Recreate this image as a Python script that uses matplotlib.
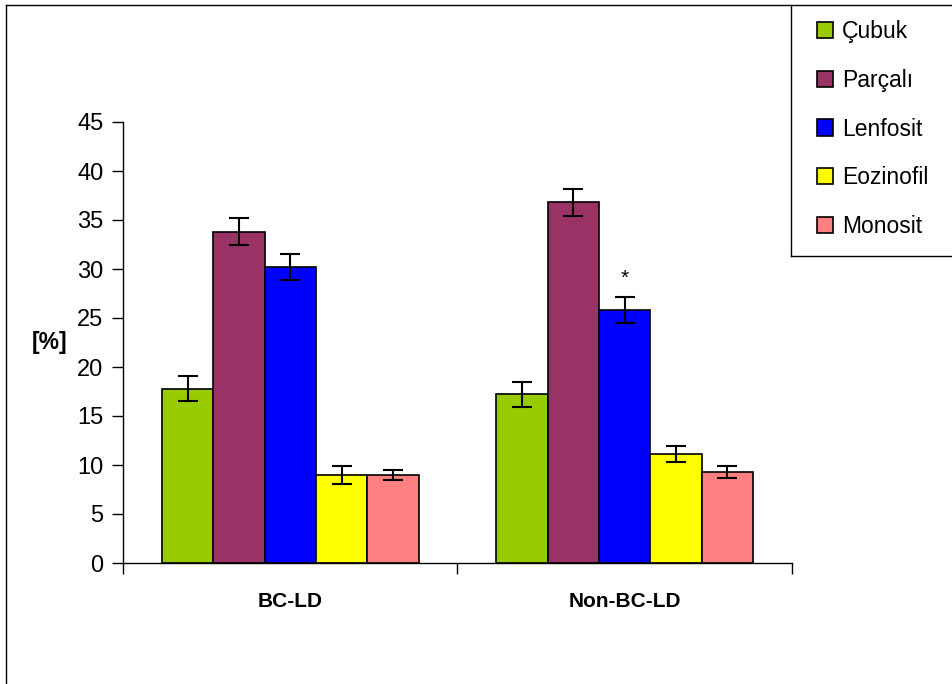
#!/usr/bin/env python3
"""Leukocyte differential in BC-LD vs Non-BC-LD groups, grouped bar chart."""

import numpy as np
import matplotlib
matplotlib.use("Agg")
import matplotlib.pyplot as plt
from matplotlib.lines import Line2D
from matplotlib.patches import Patch

plt.rcParams['font.family'] = ['Liberation Sans', 'DejaVu Sans']

# Data
groups = ['BC-LD', 'Non-BC-LD']
cell_types = ['Çubuk', 'Parçalı', 'Lenfosit', 'Eozinofil', 'Monosit']
colors = ['#99CC00', '#993366', '#0000FF', '#FFFF00', '#FF8080']

cubuk = [17.8, 17.2]
parcali = [33.8, 36.8]
lenfosit = [30.2, 25.8]
eozinofil = [9.0, 11.1]
monosit = [9.0, 9.3]

cubuk_err = [1.3, 1.25]
parcali_err = [1.4, 1.4]
lenfosit_err = [1.3, 1.3]
eozinofil_err = [0.9, 0.8]
monosit_err = [0.5, 0.6]

values = [cubuk, parcali, lenfosit, eozinofil, monosit]
errors = [cubuk_err, parcali_err, lenfosit_err, eozinofil_err, monosit_err]

W, H = 953, 684
fig = plt.figure(figsize=(W / 100, H / 100), dpi=100)
ax = fig.add_axes([123 / W, (H - 563) / H, (792 - 123) / W, (563 - 122) / H])

x = np.arange(len(groups))
bar_w = 0.767 / len(cell_types)
for i, (vals, errs, c) in enumerate(zip(values, errors, colors)):
    pos = x - 0.767 / 2 + bar_w * (i + 0.5)
    ax.bar(pos, vals, width=bar_w, color=c, edgecolor='black', linewidth=1.2,
           label=cell_types[i], zorder=2)
    ax.errorbar(pos, vals, yerr=errs, fmt='none', ecolor='black',
                elinewidth=1.5, capsize=7.5, capthick=1.5, zorder=3)

# significance mark over Non-BC-LD Lenfosit
star_x = x[1] - 0.767 / 2 + bar_w * 2.5
ax.text(star_x, 29.0, '*', ha='center', va='center', fontsize=15)

ax.set_xlim(-0.5, 1.5)
ax.set_ylim(0, 45)
ax.set_yticks(range(0, 46, 5))
ax.tick_params(axis='y', direction='out', length=8, width=1, labelsize=17, pad=6)
ax.set_xticks([-0.5, 0.5, 1.5])
ax.set_xticklabels([])
ax.tick_params(axis='x', direction='out', length=8, width=1)
for g, xi in zip(groups, x):
    ax.text(xi, -3.9, g, ha='center', va='center', fontsize=15, fontweight='bold')

for s in ['top', 'right']:
    ax.spines[s].set_visible(False)
for s in ['left', 'bottom']:
    ax.spines[s].set_linewidth(1)

fig.text(50 / W, 1 - 343 / H, '[%]', ha='center', va='center',
         fontsize=16.5, fontweight='bold')

# outer chart frame and legend box
fig.add_artist(Line2D([6 / W, 6 / W], [0, 1 - 5 / H], transform=fig.transFigure,
                      color='black', linewidth=1))
fig.add_artist(Line2D([6 / W, 1], [1 - 5 / H, 1 - 5 / H], transform=fig.transFigure,
                      color='black', linewidth=1))
fig.add_artist(Line2D([791 / W, 791 / W], [1 - 5 / H, 1 - 256 / H],
                      transform=fig.transFigure, color='black', linewidth=1))
fig.add_artist(Line2D([791 / W, 1], [1 - 256 / H, 1 - 256 / H],
                      transform=fig.transFigure, color='black', linewidth=1))

handles = [Patch(facecolor=c, edgecolor='black', linewidth=1.2) for c in colors]
fig.legend(handles, cell_types, loc='upper left', bbox_to_anchor=(808 / W, 1 - 11 / H),
           frameon=False, fontsize=16.5, handlelength=0.7, handleheight=0.7,
           handletextpad=0.4, labelspacing=1.12, borderaxespad=0)

fig.savefig('out.png', dpi=100)
